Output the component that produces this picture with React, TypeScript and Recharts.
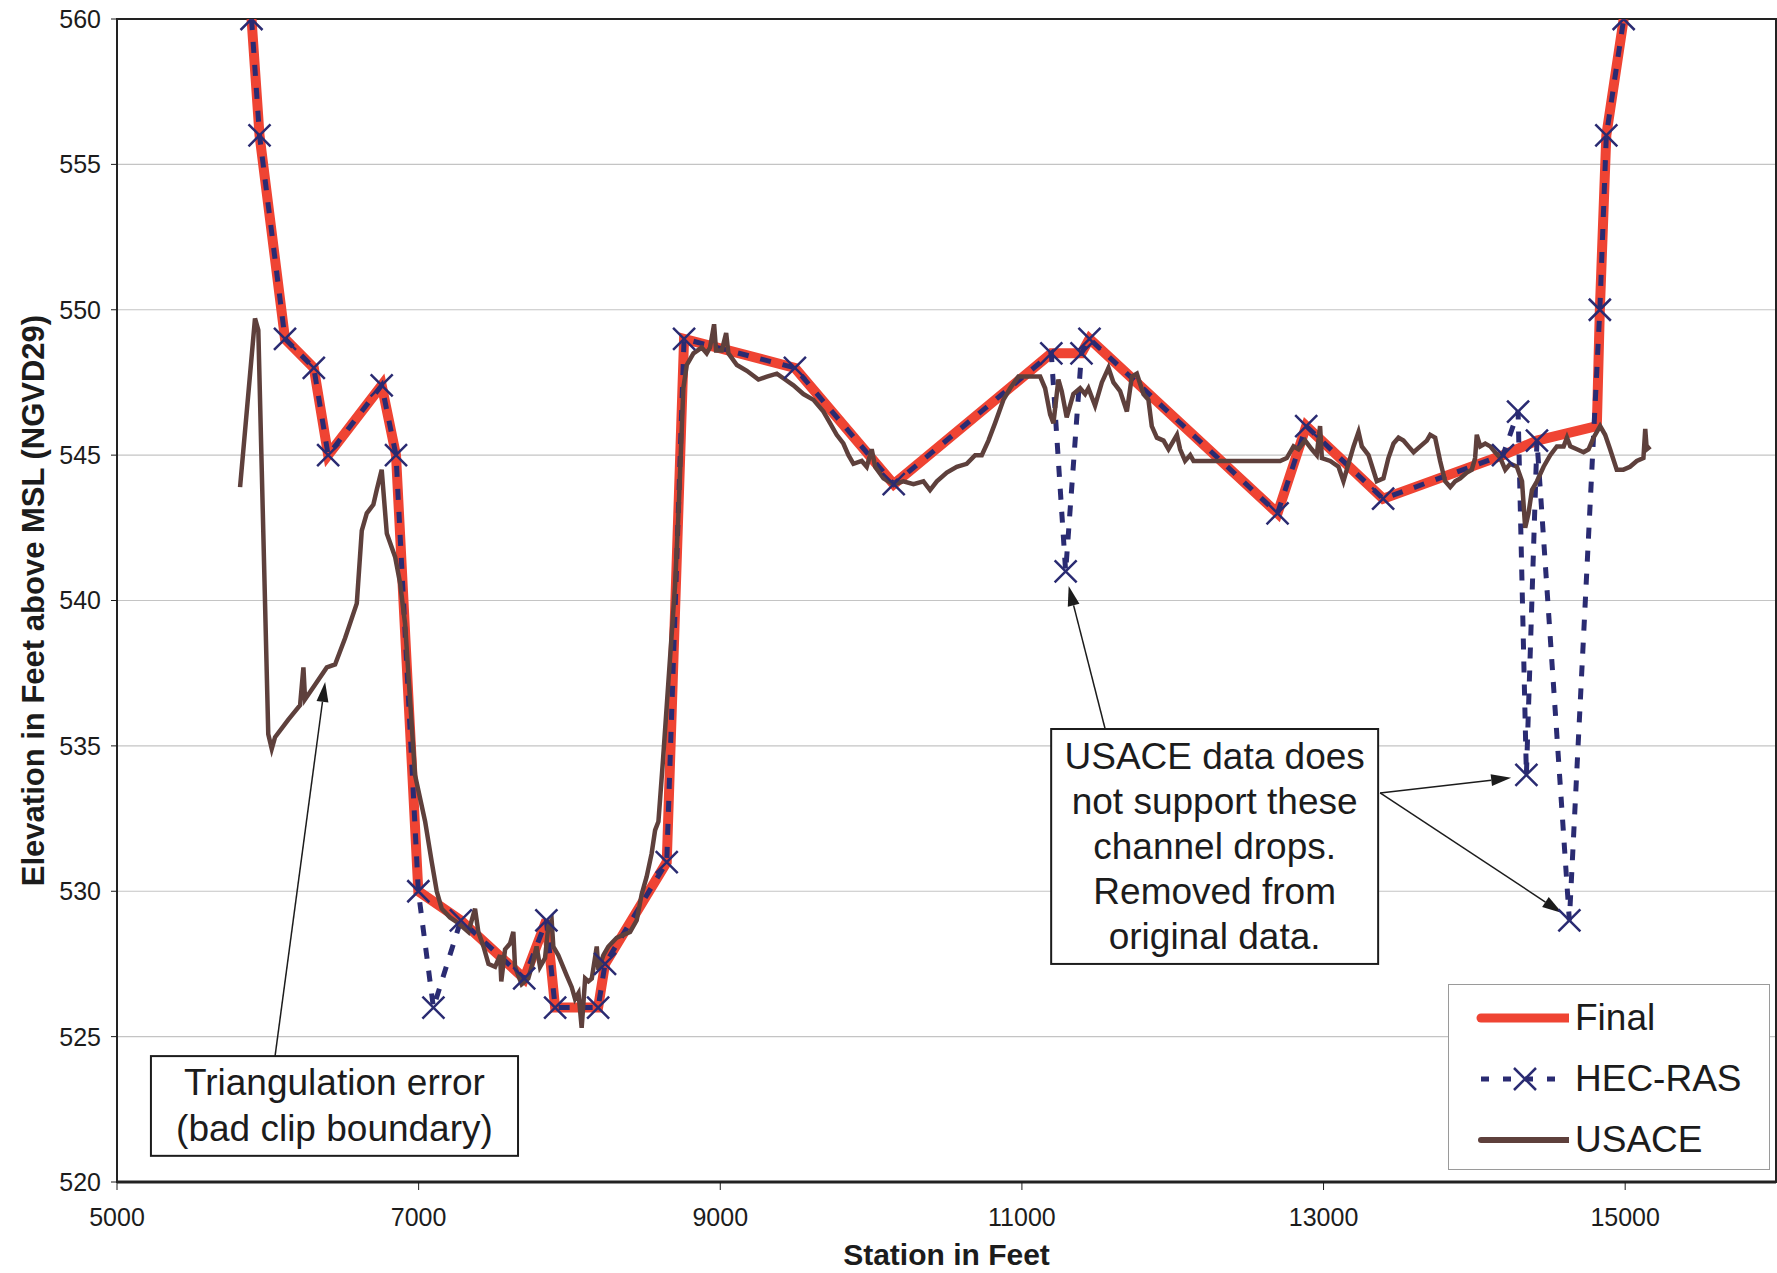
import React from 'react';
import {
  LineChart, Line, XAxis, YAxis, CartesianGrid,
  ReferenceArea, ReferenceLine, Legend
} from 'recharts';

// station (ft), elevation (ft)
const finalPoints: [number, number][] = [
  [5892, 560], [5945, 556], [6114, 549], [6305, 548], [6400, 545], [6755, 547.4],
  [6850, 545], [6998, 530], [7280, 529], [7700, 527], [7847, 529], [7905, 526],
  [8190, 526], [8236, 527.5], [8645, 531], [8760, 549], [9495, 548], [10150, 544],
  [11195, 548.5], [11395, 548.5], [11448, 549], [12695, 543], [12885, 546],
  [13395, 543.5], [14190, 545], [14415, 545.5], [14812, 546], [14832, 550],
  [14875, 556], [14990, 560],
];

const hecRasPoints: [number, number][] = [
  [5892, 560], [5945, 556], [6114, 549], [6305, 548], [6400, 545], [6755, 547.4],
  [6850, 545], [6998, 530], [7098, 526], [7280, 529], [7700, 527], [7847, 529],
  [7905, 526], [8190, 526], [8236, 527.5], [8645, 531], [8760, 549], [9495, 548],
  [10150, 544], [11195, 548.5], [11290, 541], [11395, 548.5], [11448, 549],
  [12695, 543], [12885, 546], [13395, 543.5], [14190, 545], [14290, 546.5],
  [14345, 534], [14415, 545.5], [14630, 529], [14832, 550], [14875, 556], [14990, 560],
];

const usacePoints: [number, number][] = [
  [5816, 543.9], [5915, 549.7], [5937, 549.3], [6003, 535.4], [6026, 534.9], [6048, 535.3],
  [6136, 535.9], [6214, 536.4], [6236, 537.7], [6247, 536.6], [6313, 537.1], [6391, 537.7],
  [6446, 537.8], [6512, 538.7], [6590, 539.9], [6623, 542.4], [6656, 543.0], [6700, 543.3],
  [6722, 543.8], [6755, 544.5], [6789, 542.3], [6844, 541.5], [6877, 540.6], [6910, 539.2],
  [6943, 536.6], [6976, 534.0], [7043, 532.4], [7087, 531.0], [7120, 530.0], [7153, 529.4],
  [7208, 529.1], [7264, 528.9], [7330, 528.6], [7374, 529.4], [7396, 528.6], [7430, 528.1],
  [7463, 527.5], [7507, 527.4], [7540, 527.8], [7548, 526.9], [7573, 528.0], [7606, 528.2],
  [7628, 528.6], [7639, 527.4], [7683, 526.8], [7727, 527.0], [7760, 527.6], [7782, 528.1],
  [7805, 527.4], [7838, 527.7], [7860, 528.8], [7882, 529.0], [7893, 528.1], [7926, 527.8],
  [7982, 527.1], [8015, 526.7], [8037, 526.3], [8060, 526.5], [8081, 525.3], [8104, 527.0],
  [8126, 526.9], [8148, 527.0], [8181, 528.1], [8192, 527.3], [8225, 527.8], [8258, 528.1],
  [8313, 528.4], [8357, 528.5], [8402, 528.6], [8446, 529.0], [8479, 529.9], [8512, 530.5],
  [8545, 531.3], [8568, 532.1], [8590, 532.4], [8620, 534.5], [8660, 537.5], [8700, 540.5],
  [8722, 542.9], [8755, 547.3], [8778, 548.1], [8822, 548.5], [8877, 548.7], [8910, 548.5],
  [8932, 548.7], [8959, 549.5], [8972, 548.6], [9010, 548.6], [9039, 549.2], [9054, 548.5],
  [9110, 548.1], [9176, 547.9], [9253, 547.6], [9309, 547.7], [9375, 547.8], [9430, 547.6],
  [9485, 547.4], [9551, 547.1], [9618, 546.9], [9684, 546.5], [9728, 546.1], [9772, 545.7],
  [9816, 545.4], [9850, 545.0], [9883, 544.7], [9938, 544.8], [9971, 544.6], [10004, 545.2],
  [10027, 544.6], [10082, 544.2], [10148, 544.0], [10214, 544.1], [10281, 544.0], [10347, 544.1],
  [10391, 543.8], [10436, 544.1], [10502, 544.4], [10568, 544.6], [10634, 544.7], [10690, 545.0],
  [10734, 545.0], [10778, 545.5], [10822, 546.1], [10877, 546.9], [10922, 547.3], [10977, 547.7],
  [11032, 547.7], [11121, 547.7], [11154, 547.3], [11187, 546.4], [11209, 546.1], [11242, 547.6],
  [11264, 547.2], [11297, 546.3], [11341, 547.1], [11386, 547.3], [11419, 547.1], [11441, 547.3],
  [11485, 546.7], [11530, 547.5], [11574, 548.0], [11607, 547.5], [11651, 547.2], [11696, 546.5],
  [11729, 547.7], [11762, 547.8], [11806, 547.1], [11839, 546.9], [11861, 546.0], [11895, 545.6],
  [11939, 545.5], [11972, 545.2], [12028, 545.7], [12049, 545.2], [12082, 544.8], [12116, 545.0],
  [12138, 544.8], [12712, 544.8], [12756, 544.9], [12801, 545.3], [12834, 545.2], [12878, 545.5],
  [12922, 545.2], [12955, 545.0], [12977, 546.0], [12989, 544.9], [13044, 544.8], [13099, 544.6],
  [13132, 544.1], [13165, 544.7], [13199, 545.3], [13232, 545.8], [13254, 545.3], [13298, 545.0],
  [13353, 544.1], [13397, 544.2], [13430, 544.9], [13464, 545.4], [13497, 545.6], [13530, 545.5],
  [13563, 545.3], [13597, 545.1], [13641, 545.3], [13685, 545.5], [13707, 545.7], [13740, 545.6],
  [13773, 544.8], [13806, 544.1], [13840, 543.9], [13873, 544.1], [13906, 544.2], [13950, 544.4],
  [13983, 544.5], [14005, 544.9], [14016, 545.7], [14039, 545.3], [14072, 545.4], [14105, 545.3],
  [14138, 545.1], [14172, 544.9], [14205, 544.5], [14238, 544.7], [14282, 544.6], [14316, 544.1],
  [14337, 542.5], [14359, 543.0], [14382, 543.8], [14415, 544.1], [14459, 544.6], [14503, 545.0],
  [14547, 545.3], [14592, 545.3], [14614, 545.6], [14636, 545.3], [14680, 545.2], [14724, 545.1],
  [14757, 545.2], [14790, 545.6], [14834, 546.0], [14867, 545.7], [14900, 545.2], [14944, 544.5],
  [14988, 544.5], [15032, 544.6], [15077, 544.8], [15121, 544.9], [15133, 545.9], [15143, 545.2],
  [15166, 545.3],
];

const xTicks = [5000, 7000, 9000, 11000, 13000, 15000];
const yTicks = [520, 525, 530, 535, 540, 545, 550, 555, 560];

const seriesNames = ['Final', 'HEC-RAS', 'USACE'];

const note1Lines = ['Triangulation error', '(bad clip boundary)'];
const note2Lines = ['USACE data does', 'not support these', 'channel drops.', 'Removed from', 'original data.'];

const toRows = (pts: [number, number][]) => pts.map(([x, y]) => ({ x, y }));

const RED = '#ef4433';
const NAVY = '#2a2b72';
const BROWN = '#5e403c';
const INK = '#1c1c1c';
const FONT = '"Liberation Sans", Arial, sans-serif';

const XMark = (props: any) => {
  const { cx, cy, index } = props;
  if (cx == null || cy == null) return <g key={`x-${index}`} />;
  const s = 11;
  return (
    <path
      key={`x-${index}`}
      d={`M${cx - s},${cy - s}L${cx + s},${cy + s}M${cx - s},${cy + s}L${cx + s},${cy - s}`}
      stroke={NAVY}
      strokeWidth={2.5}
      fill="none"
    />
  );
};

const Arrow = (props: any) => {
  const { x1, y1, x2, y2 } = props;
  const ang = Math.atan2(y2 - y1, x2 - x1);
  const len = 20;
  const half = 6;
  const bx = x2 - len * Math.cos(ang);
  const by = y2 - len * Math.sin(ang);
  const px = -Math.sin(ang) * half;
  const py = Math.cos(ang) * half;
  return (
    <g>
      <line x1={x1} y1={y1} x2={bx} y2={by} stroke={INK} strokeWidth={1.5} />
      <polygon points={`${x2},${y2} ${bx + px},${by + py} ${bx - px},${by - py}`} fill={INK} />
    </g>
  );
};

const noteBox = (lines: string[], lineGap: number) => (props: any) => {
  const { x, y, width, height } = props;
  const cx = x + width / 2;
  const cy = y + height / 2;
  const top = cy - ((lines.length - 1) * lineGap) / 2;
  return (
    <g>
      <rect x={x} y={y} width={width} height={height} fill="#fff" stroke={INK} strokeWidth={2} />
      {lines.map((t, i) => (
        <text key={i} x={cx} y={top + i * lineGap} textAnchor="middle" dominantBaseline="central"
          fontFamily={FONT} fontSize={37} fill={INK}>{t}</text>
      ))}
    </g>
  );
};

const LegendBox = () => {
  const colors = [RED, NAVY, BROWN];
  return (
    <div style={{
      width: 322, height: 186, border: '1px solid #9a9a9a', background: '#fff',
      boxSizing: 'border-box', fontFamily: FONT, fontSize: 37, color: INK, paddingTop: 2,
    }}>
      {seriesNames.map((name, i) => (
        <div key={name} style={{ height: 61, display: 'flex', alignItems: 'center' }}>
          <svg width={120} height={40} style={{ flex: 'none' }}>
            {i === 0 && <line x1={32} y1={20} x2={119} y2={20} stroke={colors[i]} strokeWidth={9} strokeLinecap="round" />}
            {i === 1 && (
              <g>
                <line x1={32} y1={20} x2={119} y2={20} stroke={NAVY} strokeWidth={5} strokeDasharray="8 14" />
                <path d="M65,9L87,31M65,31L87,9" stroke={NAVY} strokeWidth={2.5} />
              </g>
            )}
            {i === 2 && <line x1={32} y1={20} x2={119} y2={20} stroke={BROWN} strokeWidth={6} strokeLinecap="round" />}
          </svg>
          <span style={{ marginLeft: 6 }}>{name}</span>
        </div>
      ))}
    </div>
  );
};

export default function App() {
  return (
    <div style={{ position: 'absolute', left: 0, top: 0, width: 1777, height: 1273, background: '#fff' }}>
      <LineChart width={1777} height={1273} margin={{ top: 19, right: 1, bottom: 31, left: 17 }}>
        <CartesianGrid vertical={false} stroke="#c4c4c4" strokeWidth={1.2} />
        <XAxis
          type="number" dataKey="x" domain={[5000, 16000]} ticks={xTicks} height={60}
          allowDataOverflow
          stroke={INK} axisLine={{ stroke: '#222', strokeWidth: 3 }} tickSize={8} tickMargin={18}
          tick={{ fontSize: 25, fill: INK, fontFamily: FONT }}
          label={{
            content: (p: any) => (
              <text x={p.viewBox.x + p.viewBox.width / 2} y={p.viewBox.y + 72} textAnchor="middle"
                dominantBaseline="central" fontFamily={FONT} fontWeight="bold" fontSize={30} fill={INK}>
                Station in Feet
              </text>
            ),
          }}
        />
        <YAxis
          type="number" dataKey="y" domain={[520, 560]} ticks={yTicks} width={100}
          allowDataOverflow
          stroke={INK} axisLine={{ stroke: '#222', strokeWidth: 2 }} tickSize={6} tickMargin={10}
          tick={{ fontSize: 25, fill: INK, fontFamily: FONT }}
          label={{
            content: (p: any) => {
              const cx = p.viewBox.x + 16;
              const cy = p.viewBox.y + p.viewBox.height / 2;
              return (
                <text x={cx} y={cy} transform={`rotate(-90 ${cx} ${cy})`} textAnchor="middle"
                  dominantBaseline="central" fontFamily={FONT} fontWeight="bold" fontSize={31} fill={INK}>
                  Elevation in Feet above MSL (NGVD29)
                </text>
              );
            },
          }}
        />
        <ReferenceArea x1={5000} x2={16000} y1={520} y2={560} fill="none" stroke="#222" strokeWidth={2} />
        <Line data={toRows(finalPoints)} dataKey="y" name={seriesNames[0]} type="linear"
          stroke={RED} strokeWidth={10} dot={false} activeDot={false} isAnimationActive={false} />
        <Line data={toRows(hecRasPoints)} dataKey="y" name={seriesNames[1]} type="linear"
          stroke={NAVY} strokeWidth={5} strokeDasharray="11 12" dot={XMark} activeDot={false}
          isAnimationActive={false} />
        <Line data={toRows(usacePoints)} dataKey="y" name={seriesNames[2]} type="linear"
          stroke={BROWN} strokeWidth={4.5} dot={false} activeDot={false} isAnimationActive={false} />
        <ReferenceArea x1={5225} x2={7659} y1={520.9} y2={524.33} shape={noteBox(note1Lines, 46)} />
        <ReferenceArea x1={11194} x2={13362} y1={527.5} y2={535.58} shape={noteBox(note2Lines, 45)} />
        <ReferenceLine segment={[{ x: 6048, y: 524.33 }, { x: 6380, y: 537.2 }]} shape={Arrow} />
        <ReferenceLine segment={[{ x: 11552, y: 535.58 }, { x: 11310, y: 540.5 }]} shape={Arrow} />
        <ReferenceLine segment={[{ x: 13375, y: 533.38 }, { x: 14244, y: 533.9 }]} shape={Arrow} />
        <ReferenceLine segment={[{ x: 13375, y: 533.38 }, { x: 14582, y: 529.25 }]} shape={Arrow} />
        <Legend
          layout="vertical" align="center" verticalAlign="middle"
          content={() => <LegendBox />}
          wrapperStyle={{ position: 'absolute', left: 1448, top: 984, width: 322, height: 186 }}
        />
      </LineChart>
    </div>
  );
}
